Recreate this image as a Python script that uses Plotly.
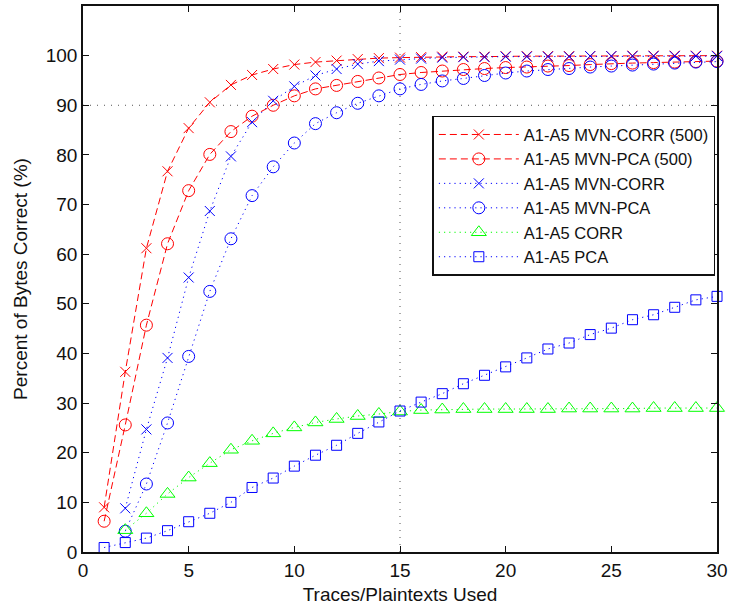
import plotly.graph_objects as go

# Number of traces / plaintexts used
traces_used = list(range(1, 31))

# Percent of key bytes recovered correctly, per attack variant
mvn_corr_500 = [9.0, 36.3, 61.2, 76.7, 85.4, 90.6, 94.1, 96.1, 97.3, 98.2,
                98.7, 99.0, 99.3, 99.5, 99.6, 99.7, 99.8, 99.8, 99.8, 99.9,
                99.9, 99.9, 99.9, 99.9, 99.9, 100.0, 100.0, 100.0, 100.0, 100.0]
mvn_pca_500 = [6.2, 25.6, 45.7, 62.1, 72.8, 80.1, 84.7, 87.8, 90.0, 91.9,
               93.3, 94.0, 94.8, 95.5, 96.2, 96.6, 96.9, 97.2, 97.4, 97.6,
               97.7, 97.9, 98.0, 98.2, 98.4, 98.5, 98.6, 98.7, 98.8, 98.9]
mvn_corr = [None, 8.8, 24.7, 39.1, 55.3, 68.7, 79.7, 86.6, 90.9, 93.8,
            96.0, 97.3, 98.3, 98.9, 99.2, 99.4, 99.6, 99.7, 99.7, 99.8,
            99.8, 99.8, 99.8, 99.9, 99.9, 99.9, 99.9, 99.9, 99.9, 99.9]
mvn_pca = [None, 4.2, 13.7, 26.0, 39.4, 52.5, 63.1, 71.8, 77.6, 82.4,
           86.3, 88.5, 90.4, 91.9, 93.3, 94.2, 94.9, 95.4, 96.0, 96.5,
           96.9, 97.2, 97.4, 97.7, 97.9, 98.1, 98.3, 98.5, 98.7, 98.8]
corr = [None, 4.4, 7.8, 11.7, 15.0, 17.9, 20.6, 22.4, 23.9, 25.1,
        26.1, 26.8, 27.4, 27.8, 28.3, 28.6, 28.7, 28.8, 28.8, 28.8,
        28.8, 28.8, 28.9, 28.9, 28.9, 28.9, 29.0, 29.0, 29.0, 29.0]
pca = [0.9, 1.9, 2.8, 4.3, 6.1, 7.8, 10.0, 13.0, 14.9, 17.3,
       19.5, 21.5, 23.9, 26.2, 28.4, 30.2, 31.9, 33.9, 35.6, 37.3,
       39.1, 40.9, 42.1, 43.8, 45.1, 46.8, 47.8, 49.3, 50.8, 51.5]

# Reference thresholds: 90% success and 15 traces
target_pct = 90
target_traces = 15

x_ticks = [0, 5, 10, 15, 20, 25, 30]
y_ticks = [0, 10, 20, 30, 40, 50, 60, 70, 80, 90, 100]

RED = "#ff0000"
BLUE = "#0000ff"
GREEN = "#00ff00"
DASHED = "7px,4px"
DOTTED = "1.2px,4px"

series = [
    ("A1-A5 MVN-CORR (500)", mvn_corr_500, RED, DASHED, "x-thin-open", 10),
    ("A1-A5 MVN-PCA (500)", mvn_pca_500, RED, DASHED, "circle-open", 12),
    ("A1-A5 MVN-CORR", mvn_corr, BLUE, DOTTED, "x-thin-open", 10),
    ("A1-A5 MVN-PCA", mvn_pca, BLUE, DOTTED, "circle-open", 12),
    ("A1-A5 CORR", corr, GREEN, DOTTED, "triangle-up-open", 13),
    ("A1-A5 PCA", pca, BLUE, DOTTED, "square-open", 10),
]

fig = go.Figure()

fig.add_hline(y=target_pct, line=dict(color="#555555", width=1, dash="1px,6px"), layer="below")
fig.add_vline(x=target_traces, line=dict(color="#555555", width=1, dash="1px,6px"), layer="below")

for i, (name, vals, color, dash, symbol, size) in enumerate(series):
    fig.add_trace(go.Scatter(
        x=traces_used, y=vals, name=name, mode="lines+markers",
        legendgroup=f"g{i}",
        line=dict(color=color, width=1, dash=dash),
        marker=dict(symbol=symbol, size=size, color=color,
                    line=dict(color=color, width=1)),
        cliponaxis=False,
    ))

axis_font = dict(family="Liberation Sans, Arial, sans-serif", size=19, color="#111111")

fig.update_xaxes(
    range=[0, 30], tickvals=x_ticks, ticks="inside", ticklen=6, tickwidth=1,
    tickcolor="#111111", showline=True, linecolor="#111111", linewidth=1.6,
    mirror="ticks", showgrid=False, zeroline=False, tickfont=axis_font,
    title=dict(text="Traces/Plaintexts Used", font=dict(size=19), standoff=8),
)
fig.update_yaxes(
    range=[0, 110], tickvals=y_ticks, ticks="inside", ticklen=6, tickwidth=1,
    tickcolor="#111111", showline=True, linecolor="#111111", linewidth=1.6,
    mirror="ticks", showgrid=False, zeroline=False, tickfont=axis_font,
    title=dict(text="Percent of Bytes Correct (%)", font=dict(size=19), standoff=13),
)

fig.update_layout(
    width=732, height=608,
    margin=dict(l=83, r=12, t=4, b=56),
    paper_bgcolor="white", plot_bgcolor="white",
    font=dict(family="Liberation Sans, Arial, sans-serif", size=16, color="#111111"),
    showlegend=True,
    legend=dict(
        x=0.551, y=0.799, xanchor="left", yanchor="top",
        bgcolor="white", bordercolor="#111111", borderwidth=1.5,
        font=dict(size=16.5), tracegroupgap=2, itemwidth=80,
        traceorder="normal",
    ),
)

fig.write_html("out.html")
